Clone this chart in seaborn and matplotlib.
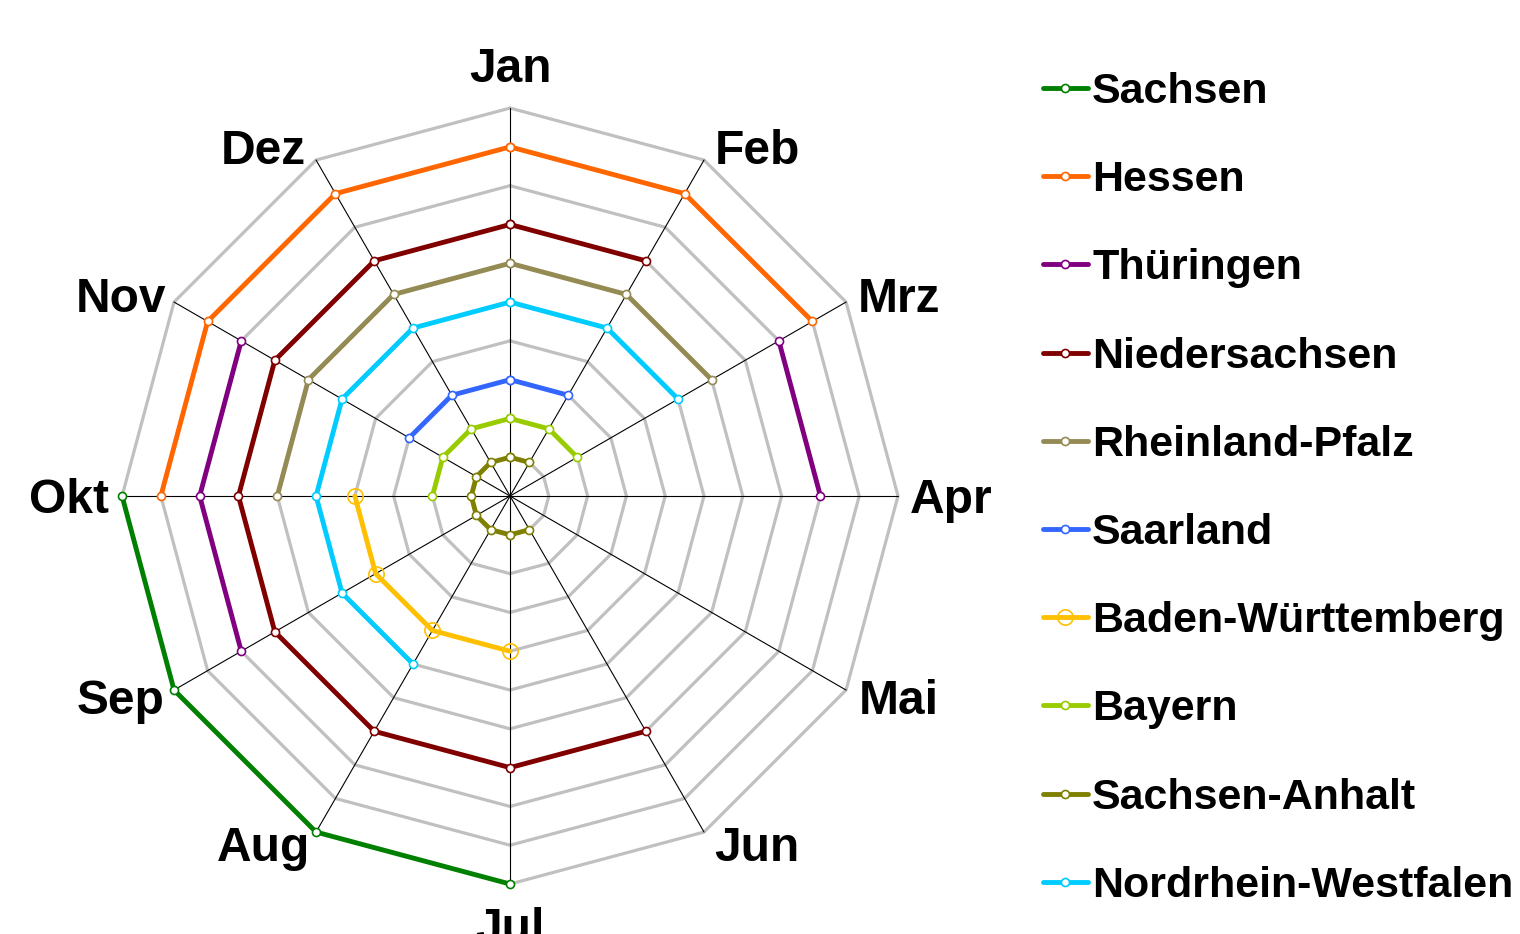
import numpy as np
import pandas as pd
import matplotlib
matplotlib.use("Agg")
import matplotlib.pyplot as plt
from matplotlib.lines import Line2D
import seaborn as sns

# ---------------- data ----------------
months = ["Jan", "Feb", "Mrz", "Apr", "Mai", "Jun",
          "Jul", "Aug", "Sep", "Okt", "Nov", "Dez"]
nan = np.nan
sachsen         = [nan, nan, nan, nan, nan, nan, 10, 10, 10, 10, nan, nan]
hessen          = [9, 9, 9, nan, nan, nan, nan, nan, nan, 9, 9, 9]
thueringen      = [nan, nan, 8, 8, nan, nan, nan, nan, 8, 8, 8, nan]
niedersachsen   = [7, 7, nan, nan, nan, 7, 7, 7, 7, 7, 7, 7]
rheinland_pfalz = [6, 6, 6, nan, nan, nan, nan, nan, nan, 6, 6, 6]
saarland        = [3, 3, nan, nan, nan, nan, nan, nan, nan, nan, 3, 3]
baden_wuertt    = [nan, nan, nan, nan, nan, nan, 4, 4, 4, 4, nan, nan]
bayern          = [2, 2, 2, nan, nan, nan, nan, nan, nan, 2, 2, 2]
sachsen_anhalt  = [1, 1, nan, nan, nan, 1, 1, 1, 1, 1, 1, 1]
nrw             = [5, 5, 5, nan, nan, nan, nan, 5, 5, 5, 5, 5]

series_names = ["Sachsen", "Hessen", "Thüringen", "Niedersachsen",
                "Rheinland-Pfalz", "Saarland", "Baden-Württemberg",
                "Bayern", "Sachsen-Anhalt", "Nordrhein-Westfalen"]
series_values = [sachsen, hessen, thueringen, niedersachsen, rheinland_pfalz,
                 saarland, baden_wuertt, bayern, sachsen_anhalt, nrw]
colors = ["#008000", "#FF6600", "#800080", "#800000", "#948A54",
          "#3366FF", "#FFC000", "#99CC00", "#808000", "#00CCFF"]
ring_levels = list(range(1, 11))

# ---------------- style ----------------
sns.set_style("white")
plt.rcParams["font.family"] = ["Liberation Sans", "DejaVu Sans"]
plt.rcParams["text.color"] = "black"

fig = plt.figure(figsize=(15.2, 9.34), dpi=100)
ax = fig.add_axes([0.0803, 0.0535, 0.5105, 0.8308], projection="polar")
ax.set_theta_offset(np.pi / 2)
ax.set_theta_direction(-1)
ax.grid(False)
ax.spines["polar"].set_visible(False)
ax.set_xticks([])
ax.set_yticks([])
ax.patch.set_alpha(0)

n = len(months)
angles = np.linspace(0, 2 * np.pi, n, endpoint=False)
closed_angles = np.append(angles, 2 * np.pi)

# polygon grid rings
for lvl in ring_levels:
    ax.plot(closed_angles, [lvl] * (n + 1), color="#C0C0C0", lw=2.3,
            zorder=1, clip_on=False)
# spokes
for a in angles:
    ax.plot([a, a], [0, ring_levels[-1]], color="black", lw=0.8, zorder=2,
            clip_on=False)

# data lines
handles = []
for name, vals, col in zip(series_names, series_values, colors):
    v = np.append(np.array(vals, dtype=float), vals[0])
    big = name == "Baden-Württemberg"
    mkw = dict(marker="o",
               markersize=11 if big else 5.8,
               markerfacecolor="none" if big else "white",
               markeredgecolor=col, markeredgewidth=1.2)
    runs, cur = [], []
    for i, val in enumerate(v):
        if np.isnan(val):
            if cur:
                runs.append(cur)
            cur = []
        else:
            cur.append(i)
    if cur:
        runs.append(cur)
    for run in runs:
        df = pd.DataFrame({"theta": closed_angles[run], "r": v[run]})
        sns.lineplot(data=df, x="theta", y="r", ax=ax, sort=False,
                     estimator=None, color=col, lw=3.5, legend=False,
                     zorder=3, clip_on=False, **mkw)
    handles.append(Line2D([], [], color=col, lw=3.5, **mkw))

ax.set_xlabel("")
ax.set_ylabel("")
ax.set_ylim(0, 10)

# month labels, offset from the outer vertex
for a, m in zip(angles, months):
    s, c = np.sin(a), np.cos(a)
    if abs(s) < 0.01:
        dx, dy = 0, 42 * c - 3
    else:
        dx, dy = 53 * np.sign(s), 14 * c - 4
    ax.annotate(m, xy=(a, ring_levels[-1]), xytext=(dx, dy),
                textcoords="offset pixels", ha="center", va="center",
                fontsize=34.5, fontweight="bold", annotation_clip=False)

leg = fig.legend(handles, series_names, loc="upper left",
                 bbox_to_anchor=(0.686, 0.923), frameon=False,
                 prop={"size": 31, "weight": "bold"},
                 handlelength=1.05, handletextpad=0.1,
                 labelspacing=1.12, borderpad=0, borderaxespad=0)

fig.savefig("out.png", dpi=100)
